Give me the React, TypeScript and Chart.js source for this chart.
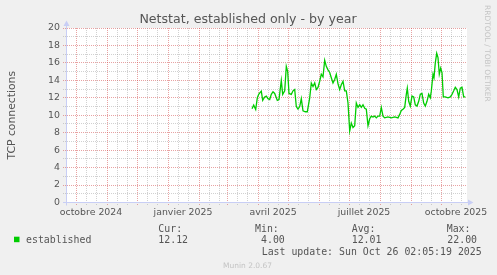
import React, { useEffect, useRef } from "react";
import { Chart, registerables } from "chart.js";
Chart.register(...registerables);

const TITLE = "Netstat, established only - by year";
const Y_TITLE = "TCP connections";
// x values are days counted from 1 Oct 2024
const X_MIN = -9;
const X_MAX = 391;
const X_LABELS = ["octobre 2024", "janvier 2025", "avril 2025", "juillet 2025", "octobre 2025"];
const X_LABEL_DAYS = [15, 107, 197, 288, 380];
const MONTH_START_DAYS = [-30, 0, 31, 61, 92, 123, 151, 182, 212, 243, 273, 304, 335, 365];
const Y_MIN = 0;
const Y_MAX = 20;
const Y_STEP = 2;

const DAYS = [
  176, 177.7, 179.7, 181.3, 182.7, 184, 185.3, 186.7, 188.7, 190.3, 192, 193.7, 195.3, 197, 198.7,
  201.3, 203, 205.3, 206.7, 208.7, 210.3, 211.7, 213, 215.3, 217, 218.7, 220.3, 222, 223.7, 225.3,
  227, 229.3, 231.3, 233.7, 235.3, 237, 238.7, 240.3, 242, 243.7, 245.3, 247, 248.7, 250.3, 252,
  253.7, 255.3, 257, 258.7, 260.3, 262, 263.7, 265.3, 267, 268.7, 270.3, 272, 273.7, 275.3, 277,
  278.7, 280.3, 282, 283.7, 285.3, 287, 288.7, 290.3, 292, 293.7, 295.3, 297, 298.7, 300.3, 302,
  303.7, 305.3, 307, 308.7, 312, 315.3, 318.7, 322, 323.7, 325.3, 327, 328.7, 330.3, 331.3, 332.7,
  334.3, 336, 337.7, 339.3, 341, 342.7, 344.3, 346, 347.7, 349.3, 351, 352.7, 354.3, 355.3, 357,
  358, 359.3, 360.7, 362, 363.3, 364.7, 366, 367.3, 369.3, 372, 374.3, 376, 377.7, 379.3, 381,
  382.7, 384.3, 386, 387.7, 389.3,
];
const ESTABLISHED = [
  10.74, 11.16, 10.67, 12.0, 12.4, 12.6, 12.76, 11.7, 12.1, 12.2, 11.9, 11.8, 12.4, 12.7, 12.5,
  11.7, 11.8, 14.0, 12.4, 12.8, 15.6, 15.0, 12.5, 12.4, 12.8, 12.95, 11.0, 10.7, 11.0, 11.9,
  10.5, 10.4, 10.4, 12.0, 13.7, 13.3, 13.7, 12.95, 13.2, 13.9, 14.7, 14.4, 16.3, 15.6, 15.2,
  14.9, 14.3, 13.7, 14.1, 14.7, 13.6, 12.95, 13.5, 13.9, 12.8, 12.8, 11.4, 8.2, 9.1, 8.6,
  8.8, 11.4, 10.9, 11.2, 10.9, 11.2, 10.8, 10.7, 8.8, 9.6, 9.9, 9.8, 9.9, 9.7, 9.9,
  9.9, 10.9, 9.9, 9.7, 9.8, 9.7, 9.8, 9.7, 10.1, 10.55, 10.7, 10.9, 12.4, 13.1, 11.6,
  11.05, 12.2, 12.1, 11.2, 11.05, 11.6, 12.4, 12.5, 11.4, 11.05, 11.6, 12.4, 12.0, 12.76, 14.7,
  14.3, 16.0, 17.1, 16.6, 14.7, 15.4, 14.9, 12.1, 12.1, 12.0, 12.1, 12.4, 12.8, 13.2, 12.95,
  12.1, 13.1, 13.2, 12.1, 12.1,
];

const LEGEND_NAME = "established";
const STAT_HEADERS = ["Cur:", "Min:", "Avg:", "Max:"];
const STAT_VALUES = ["12.12", "4.00", "12.01", "22.00"];
const LAST_UPDATE = "Last update: Sun Oct 26 02:05:19 2025";
const WATERMARK = "Munin 2.0.67";
const SIDE_TEXT = "RRDTOOL / TOBI OETIKER";

const FONT_COLOR = "#555555";
const FAINT_COLOR = "#c4c4c4";
const LINE_COLOR = "#00cc00";
const AXIS_COLOR = "#c8cef5";
const MINOR_GRID = "rgba(140,140,140,0.4)";
const MAJOR_GRID = "rgba(210,70,70,0.5)";

const muninPlugin = {
  id: "munin",
  beforeDraw(chart: any) {
    const { ctx, chartArea: a, width, height } = chart;
    ctx.save();
    ctx.fillStyle = "#f0f0f0";
    ctx.fillRect(0, 0, width, height);
    ctx.fillStyle = "#ffffff";
    ctx.fillRect(a.left, a.top, a.right - a.left, a.bottom - a.top);
    ctx.restore();
  },
  beforeDatasetsDraw(chart: any) {
    const { ctx, chartArea: a, scales } = chart;
    const x = scales.x;
    const y = scales.y;
    ctx.save();
    ctx.lineWidth = 1;
    ctx.setLineDash([1, 1]);
    // horizontal grid
    for (let v = Y_MIN + 1; v <= Y_MAX; v++) {
      const py = Math.floor(y.getPixelForValue(v)) + 0.5;
      ctx.strokeStyle = v % Y_STEP === 0 ? MAJOR_GRID : MINOR_GRID;
      ctx.beginPath();
      ctx.moveTo(a.left - 4, py);
      ctx.lineTo(a.right, py);
      ctx.stroke();
    }
    // vertical grid
    const drawV = (d: number, color: string) => {
      if (d <= X_MIN || d >= X_MAX) return;
      const px = Math.floor(x.getPixelForValue(d)) + 0.5;
      ctx.strokeStyle = color;
      ctx.beginPath();
      ctx.moveTo(px, a.top);
      ctx.lineTo(px, a.bottom + 3);
      ctx.stroke();
    };
    MONTH_START_DAYS.forEach((m) => {
      drawV(m + 10, MINOR_GRID);
      drawV(m + 20, MINOR_GRID);
    });
    MONTH_START_DAYS.forEach((m) => drawV(m, MAJOR_GRID));
    ctx.restore();
  },
  afterDatasetsDraw(chart: any) {
    const { ctx, chartArea: a } = chart;
    ctx.save();
    ctx.strokeStyle = AXIS_COLOR;
    ctx.fillStyle = AXIS_COLOR;
    ctx.lineWidth = 1;
    const ax = a.left - 0.5;
    const ay = Math.floor(a.bottom) + 0.5;
    ctx.beginPath();
    ctx.moveTo(ax, a.bottom + 3);
    ctx.lineTo(ax, a.top - 4);
    ctx.moveTo(a.left - 4, ay);
    ctx.lineTo(a.right + 2, ay);
    ctx.stroke();
    ctx.beginPath();
    ctx.moveTo(ax - 3, a.top - 2);
    ctx.lineTo(ax + 3, a.top - 2);
    ctx.lineTo(ax, a.top - 7.5);
    ctx.closePath();
    ctx.fill();
    ctx.beginPath();
    ctx.moveTo(a.right + 1, ay - 3);
    ctx.lineTo(a.right + 1, ay + 3);
    ctx.lineTo(a.right + 6.5, ay);
    ctx.closePath();
    ctx.fill();
    ctx.restore();
  },
  afterDraw(chart: any) {
    const { ctx, chartArea: a } = chart;
    ctx.save();
    // title
    ctx.fillStyle = FONT_COLOR;
    ctx.font = "12.6px 'DejaVu Sans'";
    ctx.textAlign = "center";
    ctx.textBaseline = "alphabetic";
    ctx.fillText(TITLE, 248, 23.2);
    // y title
    ctx.save();
    ctx.font = "10.8px 'DejaVu Sans'";
    ctx.translate(15, (a.top + a.bottom) / 2);
    ctx.rotate(-Math.PI / 2);
    ctx.fillText(Y_TITLE, 0, 0);
    ctx.restore();
    // legend
    ctx.textAlign = "left";
    ctx.font = "9.9px 'DejaVu Sans Mono'";
    const headX = [158.3, 255, 351.7, 446.7];
    const valX = [158.3, 261, 351.7, 447.3];
    STAT_HEADERS.forEach((h, i) => ctx.fillText(h, headX[i], 232.2));
    STAT_VALUES.forEach((v, i) => ctx.fillText(v, valX[i], 243.2));
    ctx.fillText(LEGEND_NAME, 26, 243.2);
    ctx.fillText(LAST_UPDATE, 261.7, 254.5);
    ctx.fillStyle = LINE_COLOR;
    ctx.fillRect(14, 236.7, 5.5, 5.5);
    // watermarks
    ctx.fillStyle = FAINT_COLOR;
    ctx.font = "7.5px 'DejaVu Sans'";
    ctx.textAlign = "center";
    ctx.fillText(WATERMARK, 247.5, 267.5);
    ctx.save();
    ctx.textAlign = "left";
    ctx.translate(485, 5);
    ctx.rotate(Math.PI / 2);
    ctx.fillText(SIDE_TEXT, 0, 0);
    ctx.restore();
    ctx.restore();
  },
};

export default function App() {
  const ref = useRef<HTMLCanvasElement | null>(null);
  useEffect(() => {
    if (!ref.current) return;
    const chart = new Chart(ref.current, {
      type: "line",
      data: {
        datasets: [
          {
            label: LEGEND_NAME,
            data: DAYS.map((d, i) => ({ x: d, y: ESTABLISHED[i] })),
            borderColor: LINE_COLOR,
            borderWidth: 1.3,
            pointRadius: 0,
            tension: 0,
            fill: false,
          },
        ],
      },
      options: {
        animation: false,
        responsive: false,
        devicePixelRatio: 1,
        events: [],
        layout: { padding: { top: 28, right: 30, left: 0, bottom: 0 } },
        plugins: { legend: { display: false }, tooltip: { enabled: false }, title: { display: false } },
        scales: {
          x: {
            type: "linear",
            min: X_MIN,
            max: X_MAX,
            grid: { display: false, drawTicks: false },
            border: { display: false },
            afterBuildTicks: (s: any) => {
              s.ticks = X_LABEL_DAYS.map((v) => ({ value: v }));
            },
            afterFit: (s: any) => {
              s.height = 72.5;
            },
            ticks: {
              autoSkip: false,
              maxRotation: 0,
              minRotation: 0,
              padding: 4,
              color: FONT_COLOR,
              font: { family: "'DejaVu Sans'", size: 9.4 },
              callback: (v: any) => {
                const i = X_LABEL_DAYS.indexOf(Number(v));
                return i >= 0 ? X_LABELS[i] : "";
              },
            },
          },
          y: {
            min: Y_MIN,
            max: Y_MAX,
            grid: { display: false, drawTicks: false },
            border: { display: false },
            afterFit: (s: any) => {
              s.width = 67;
            },
            ticks: {
              stepSize: Y_STEP,
              padding: 7,
              color: FONT_COLOR,
              font: { family: "'DejaVu Sans'", size: 9.4 },
            },
          },
        },
      },
      plugins: [muninPlugin],
    } as any);
    return () => chart.destroy();
  }, []);
  return (
    <div style={{ position: "absolute", left: 0, top: 0, width: 497, height: 275 }}>
      <canvas ref={ref} width={497} height={275} style={{ display: "block", width: 497, height: 275 }} />
    </div>
  );
}
